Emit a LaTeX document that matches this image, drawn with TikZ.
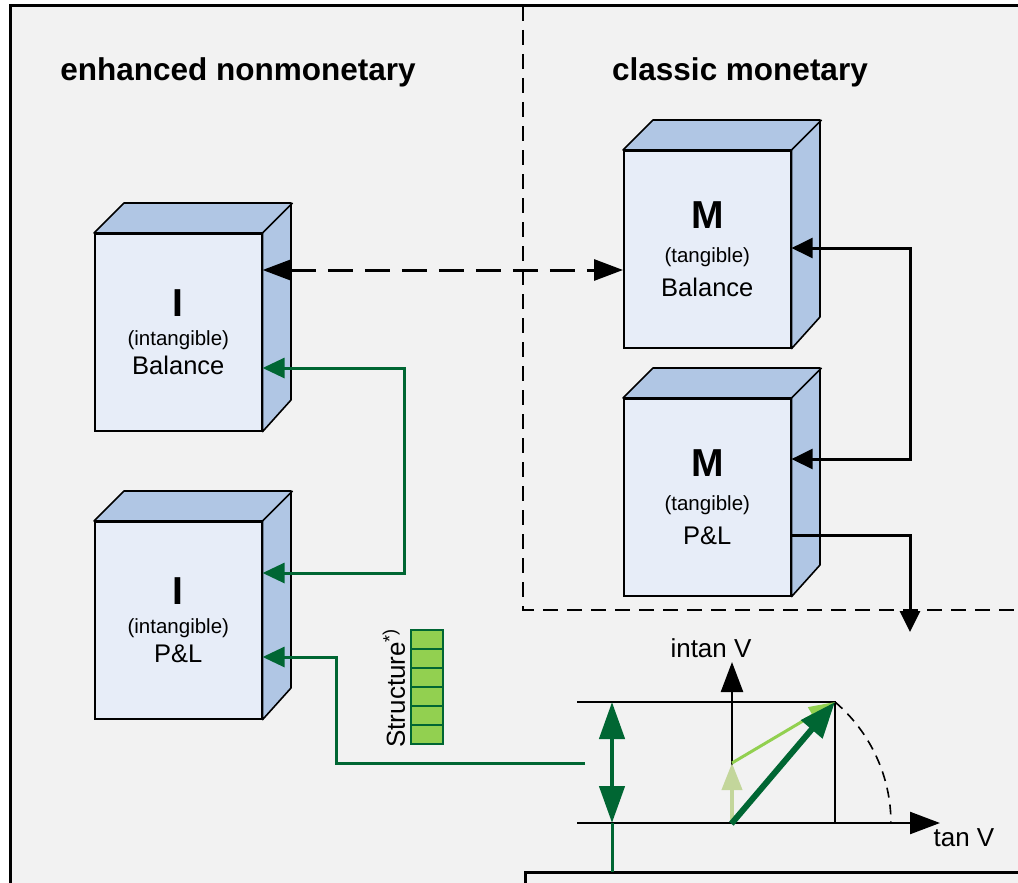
\documentclass[tikz,border=0pt]{standalone}
\usepackage{fontspec}
\setmainfont{Liberation Sans}
\usetikzlibrary{calc,arrows.meta}
\definecolor{paper}{RGB}{242,242,242}
\definecolor{frontblue}{RGB}{231,237,248}
\definecolor{sideblue}{RGB}{176,198,228}
\definecolor{darkgreen}{RGB}{0,102,51}
\definecolor{lightgreen}{RGB}{146,208,80}
\definecolor{palegreen}{RGB}{195,214,155}
\begin{document}
\begin{tikzpicture}[x = 1pt, y = -1pt,
  face/.style = {draw = black, line width = 1.6pt, fill = frontblue, minimum width = 167pt, minimum height = 197pt, inner sep = 0pt, align = center, anchor = north west},
  sideface/.style = {draw = black, line width = 1.6pt, fill = sideblue, line join = round},
  heading/.style = {font = \fontsize{31.5}{34}\selectfont\bfseries},
  label/.style = {font = \fontsize{26}{28}\selectfont},
  blackarrow/.style = {draw = black, line width = 3pt, -{Triangle[length = 21pt, width = 20pt]}},
  greenarrow/.style = {draw = darkgreen, line width = 3pt, -{Triangle[length = 22pt, width = 20pt]}},
  axis/.style = {draw = black, line width = 2.4pt, -{Triangle[length = 30pt, width = 22pt]}},
  thinline/.style = {draw = black, line width = 1.6pt},
  cell/.style = {draw = darkgreen, fill = lightgreen, line width = 2pt}]
\pgfmathsetmacro\blockdepth{30};
\useasboundingbox (0,0) rectangle (1018,883);
\fill[paper] (10,6) rectangle (1018,883);
\draw[line width = 3pt] (10,883) -- (10,6) -- (1018,6);
\draw[line width = 3pt] (525,883) -- (525,872) -- (1018,872);
\draw[line width = 1.6pt, dash pattern = on 15pt off 9pt] (523,6) -- (523,610) -- (1018,610);
\node[heading] (left) at (238,72) {enhanced nonmonetary};
\node[heading] (right) at (740,72) {classic monetary};
\foreach \nm/\x/\y/\lt/\kind/\what/\gap in {IB/94/233/I/intangible/Balance/29, IP/94/521/I/intangible/P\&L/29, MB/623/150/M/tangible/Balance/34, MP/623/398/M/tangible/P\&L/34} {
  \node[face, font = \fontsize{25.5}{\gap}\selectfont] (\nm) at (\x,\y) {{\fontsize{39}{40}\selectfont\bfseries \lt}\\{\fontsize{20.5}{22}\selectfont(\kind)}\\\what};
  \draw[sideface] (\nm.north west) -- ++(\blockdepth,-\blockdepth) -- ++(167,0) -- ++(0,197) -- (\nm.south east) -- (\nm.north east) -- cycle;
  \draw[sideface] (\nm.north east) -- ++(\blockdepth,-\blockdepth);
}
\coordinate (dash) at ($(IB.north east)+(0,37)$);
\draw[line width = 3pt, dash pattern = on 25pt off 12pt, {Triangle[length = 29pt, width = 21pt]}-{Triangle[length = 29pt, width = 21pt]}] (dash) -- (dash -| MB.west);
\coordinate (join) at (910,347);
\draw[blackarrow] (join) |- ($(MB.north east)+(0,98)$);
\draw[blackarrow] (join) |- ($(MP.north east)+(0,61)$);
\coordinate (down) at (910,632);
\draw[blackarrow] ($(MP.north east)+(0,137)$) -| (down);
\coordinate (gturn) at (404,470);
\draw[greenarrow, {Triangle[length = 22pt, width = 20pt]}-{Triangle[length = 22pt, width = 20pt]}] ($(IB.north east)+(0,135)$) -| (gturn) |- ($(IP.north east)+(0,52)$);
\coordinate (gstart) at (585,763);
\coordinate (gkink) at (336,710);
\draw[greenarrow] (gstart) -| (gkink) |- ($(IP.north east)+(0,136)$);
\foreach \i in {0,...,5} \draw[cell] (411,630+19*\i) rectangle ++(32,19);
\node[label, rotate = 90] (struct) at (394,688) {Structure\textsuperscript{*)}};
\coordinate (O) at (732,823);
\coordinate (peak) at (835,702);
\coordinate (mid) at (732,763);
\draw[thinline] (577,702) -- (peak) -- (835,823);
\draw[thinline] (577,823) -- (O);
\draw[axis] (O) -- (940,823);
\draw[axis] (O) -- (732,662);
\draw[black, line width = 1.6pt, dash pattern = on 10pt off 7pt] (peak) arc[start angle = -49.6, end angle = 0, radius = 159];
\draw[darkgreen, line width = 4.5pt, {Triangle[length = 37pt, width = 25pt]}-{Triangle[length = 37pt, width = 25pt]}] (612,702) -- (612,823);
\draw[darkgreen, line width = 3pt] (612,823) -- (612,872);
\draw[palegreen, line width = 4pt, -{Triangle[length = 27pt, width = 20pt]}] (O) -- (mid);
\draw[lightgreen, line width = 3pt, -{Triangle[length = 26pt, width = 18pt]}] (mid) -- (peak);
\draw[darkgreen, line width = 6pt, -{Triangle[length = 36pt, width = 27pt]}, shorten <= -1pt] (O) -- (peak);
\node[label] (intan) at (711,648) {intan V};
\node[label] (tan) at (964,838) {tan V};
\end{tikzpicture}
\end{document}
